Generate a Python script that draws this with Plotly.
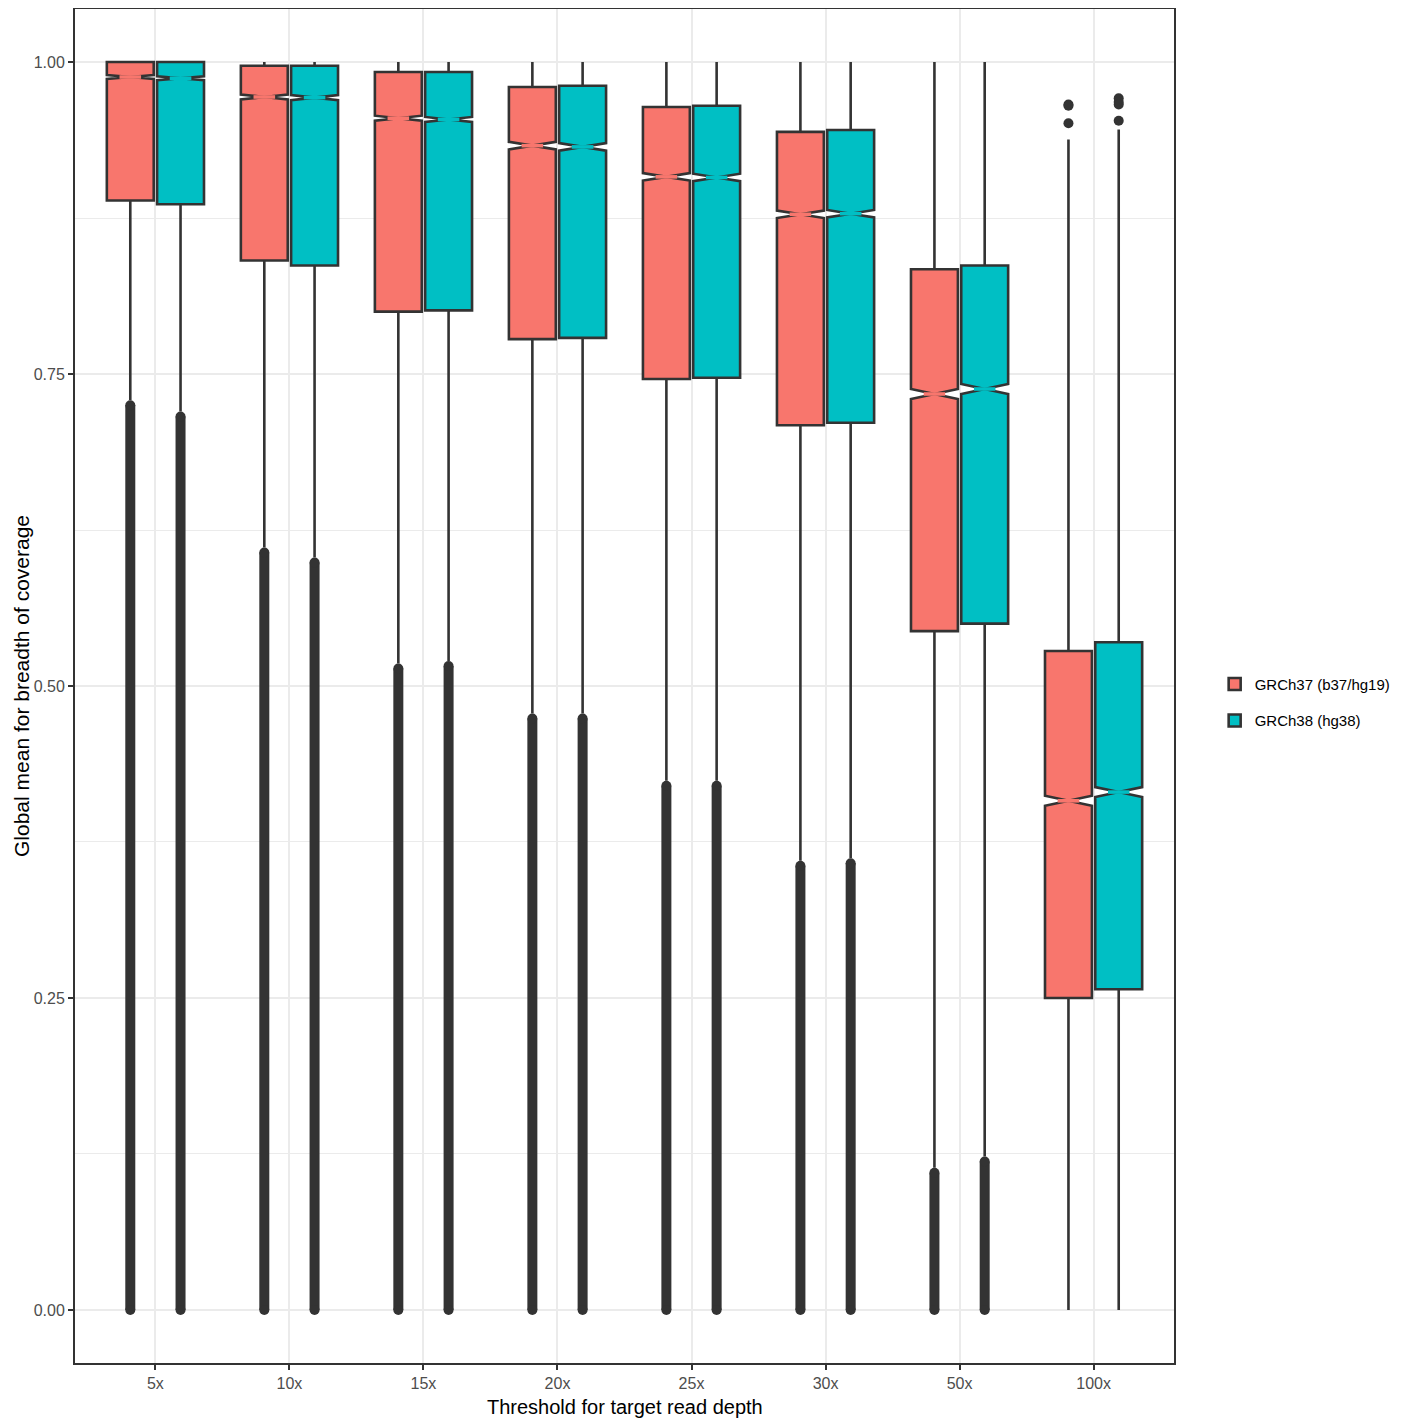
import plotly.graph_objects as go

# ---------------- data ----------------
categories = ["5x", "10x", "15x", "20x", "25x", "30x", "50x", "100x"]

g37_q1 = [0.889, 0.841, 0.800, 0.778, 0.746, 0.709, 0.544, 0.250]
g37_median = [0.988, 0.972, 0.955, 0.933, 0.908, 0.878, 0.734, 0.408]
g37_q3 = [1.000, 0.997, 0.992, 0.980, 0.964, 0.944, 0.834, 0.528]
g37_upper = [1.000, 1.000, 1.000, 1.000, 1.000, 1.000, 1.000, 0.938]
g37_lower = [0.729, 0.611, 0.518, 0.478, 0.424, 0.360, 0.114, 0.000]
g37_notch = [0.0015, 0.002, 0.002, 0.003, 0.003, 0.003, 0.004, 0.004]
g37_out_low_min = [0.0, 0.0, 0.0, 0.0, 0.0, 0.0, 0.0, None]
g37_out_low_max = [0.725, 0.607, 0.514, 0.474, 0.420, 0.356, 0.110, None]
g37_out_high_100x = [0.966, 0.965, 0.951]

g38_q1 = [0.886, 0.837, 0.801, 0.779, 0.747, 0.711, 0.550, 0.257]
g38_median = [0.987, 0.9715, 0.954, 0.932, 0.9075, 0.8785, 0.738, 0.415]
g38_q3 = [1.000, 0.997, 0.992, 0.981, 0.965, 0.9455, 0.837, 0.535]
g38_upper = [1.000, 1.000, 1.000, 1.000, 1.000, 1.000, 1.000, 0.946]
g38_lower = [0.720, 0.603, 0.520, 0.478, 0.424, 0.362, 0.123, 0.000]
g38_notch = [0.0015, 0.002, 0.002, 0.003, 0.003, 0.003, 0.004, 0.004]
g38_out_low_min = [0.0, 0.0, 0.0, 0.0, 0.0, 0.0, 0.0, None]
g38_out_low_max = [0.716, 0.599, 0.516, 0.474, 0.420, 0.358, 0.119, None]
g38_out_high_100x = [0.971, 0.968, 0.966, 0.953]

y_ticks = [0.0, 0.25, 0.50, 0.75, 1.00]

x_title = "Threshold for target read depth"
y_title = "Global mean for breadth of coverage"

# ---------------- styling ----------------
COL37 = "#F8766D"
COL38 = "#00BFC4"
DARK = "#333333"
GRID = "#EBEBEB"
FONT = "Liberation Sans, Arial, Helvetica, sans-serif"
DODGE = 0.1875
BOXW = 0.35
LW = 2.6

pos = list(range(1, len(categories) + 1))

fig = go.Figure()

series = [
    ("GRCh37 (b37/hg19)", COL37, -DODGE, g37_q1, g37_median, g37_q3, g37_lower,
     g37_upper, g37_notch, g37_out_low_min, g37_out_low_max, g37_out_high_100x),
    ("GRCh38 (hg38)", COL38, DODGE, g38_q1, g38_median, g38_q3, g38_lower,
     g38_upper, g38_notch, g38_out_low_min, g38_out_low_max, g38_out_high_100x),
]

for (name, col, off, q1, med, q3, lo, up, notch, omin, omax, ohigh) in series:
    xs = [p + off for p in pos]
    fig.add_trace(go.Box(
        name=name, x=xs, q1=q1, median=med, q3=q3,
        lowerfence=lo, upperfence=up, notchspan=notch,
        notched=True, notchwidth=0.5, width=BOXW,
        fillcolor=col, line=dict(color=DARK, width=LW),
        whiskerwidth=0, boxpoints=False, legendgroup=name,
        hoverinfo="skip",
    ))

for (name, col, off, q1, med, q3, lo, up, notch, omin, omax, ohigh) in series:
    xs = [p + off for p in pos]
    # median shown only as notch marks (as in the ggplot original): mask the middle
    mx, my = [], []
    half = BOXW * 0.23
    for x, m in zip(xs, med):
        mx += [x - half, x + half, None]
        my += [m, m, None]
    fig.add_trace(go.Scatter(
        x=mx, y=my, mode="lines", line=dict(color=col, width=LW + 1),
        showlegend=False, hoverinfo="skip",
    ))
    # low outliers (dense, rendered as a solid column)
    ox, oy = [], []
    for x, a, b in zip(xs, omin, omax):
        if a is None:
            continue
        ox += [x, x, None]
        oy += [a, b, None]
    fig.add_trace(go.Scatter(
        x=ox, y=oy, mode="lines+markers",
        line=dict(color=DARK, width=10),
        marker=dict(color=DARK, size=10),
        showlegend=False, hoverinfo="skip",
    ))
    # high outliers at 100x
    fig.add_trace(go.Scatter(
        x=[xs[-1]] * len(ohigh), y=ohigh, mode="markers",
        marker=dict(color=DARK, size=10),
        showlegend=False, hoverinfo="skip",
    ))

fig.update_layout(
    width=1408, height=1412,
    margin=dict(l=67, r=242, t=1, b=57),
    paper_bgcolor="white", plot_bgcolor="white",
    boxmode="overlay",
    font=dict(family=FONT, color="#000000"),
    showlegend=True,
    legend=dict(
        x=1.037, y=0.488, xanchor="left", yanchor="middle",
        font=dict(size=15, color="#000000", family=FONT),
        tracegroupgap=14, bgcolor="rgba(0,0,0,0)",
    ),
    annotations=[
        dict(text=x_title, xref="paper", yref="paper", x=0.5, y=0,
             xanchor="center", yanchor="middle", yshift=-44, showarrow=False,
             font=dict(size=20, color="#000000", family=FONT)),
        dict(text=y_title, xref="paper", yref="paper", x=0, y=0.5,
             xanchor="center", yanchor="middle", xshift=-54, textangle=-90,
             showarrow=False,
             font=dict(size=21, color="#000000", family=FONT)),
    ],
)

fig.update_xaxes(
    range=[0.4, 8.6], tickmode="array", tickvals=pos, ticktext=categories,
    showgrid=True, gridcolor=GRID, gridwidth=2, zeroline=False,
    showline=True, linecolor=DARK, linewidth=2, mirror=True,
    ticks="outside", ticklen=5, tickwidth=2, tickcolor=DARK,
    tickfont=dict(size=16, color="#4D4D4D", family=FONT),
    automargin=False,
)

fig.update_yaxes(
    range=[-0.0425, 1.0425], tickmode="array", tickvals=y_ticks,
    ticktext=["%.2f" % v for v in y_ticks],
    showgrid=True, gridcolor=GRID, gridwidth=2, zeroline=False,
    minor=dict(tickvals=[0.125, 0.375, 0.625, 0.875], showgrid=True,
               gridcolor=GRID, gridwidth=1, ticks=""),
    showline=True, linecolor=DARK, linewidth=2, mirror=True,
    ticks="outside", ticklen=5, tickwidth=2, tickcolor=DARK,
    tickfont=dict(size=16, color="#4D4D4D", family=FONT),
    automargin=False,
)

fig.write_html("out.html")
